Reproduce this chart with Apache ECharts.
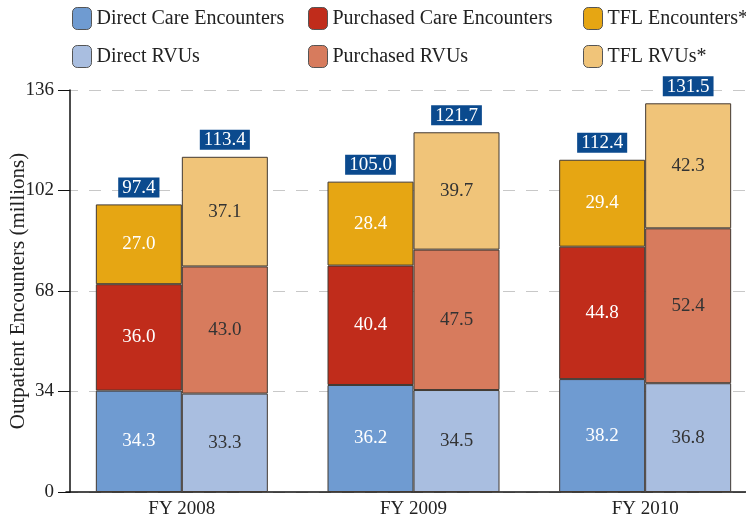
<!DOCTYPE html>
<html><head><meta charset="utf-8">
<script src="https://cdn.jsdelivr.net/npm/echarts@6/dist/echarts.min.js"></script>
<style>html,body{margin:0;padding:0;background:#fff}#c{width:746px;height:521px}</style>
</head><body><div id="c"></div>
<script>
const categories = ['FY 2008', 'FY 2009', 'FY 2010'];
const directEnc = [34.3, 36.2, 38.2];
const purchasedEnc = [36.0, 40.4, 44.8];
const tflEnc = [27.0, 28.4, 29.4];
const encTotals = [97.4, 105.0, 112.4];
const directRvu = [33.3, 34.5, 36.8];
const purchasedRvu = [43.0, 47.5, 52.4];
const tflRvu = [37.1, 39.7, 42.3];
const rvuTotals = [113.4, 121.7, 131.5];
const yTicks = [0, 34, 68, 102, 136];

const FONT = 'Liberation Serif';
const chart = echarts.init(document.getElementById('c'), null, {renderer: 'canvas'});
const border = {borderColor: '#433a33', borderWidth: 1};
function inner(color) {
  return {show: true, position: 'inside', color: color, fontFamily: FONT, fontSize: 19,
    formatter: p => p.value.toFixed(1)};
}
function totalLabel(totals) {
  return {show: true, position: 'top', distance: 7, fontFamily: FONT, fontSize: 19,
    color: '#fff', backgroundColor: '#0b4a8e', padding: [1, 4, 0, 4], lineHeight: 19,
    formatter: p => totals[p.dataIndex].toFixed(1)};
}
function mkSeries(name, data, stack, color, labelColor) {
  return {name, type: 'bar', stack, data, barWidth: 86, barGap: '0%',
    itemStyle: Object.assign({color}, border), label: inner(labelColor), emphasis: {disabled: true}};
}
const series = [
  mkSeries('Direct Care Encounters', directEnc, 'enc', '#6f9bd1', '#fff'),
  mkSeries('Purchased Care Encounters', purchasedEnc, 'enc', '#c02c1b', '#fff'),
  mkSeries('TFL Encounters*', tflEnc, 'enc', '#e6a613', '#fff'),
  mkSeries('Direct RVUs', directRvu, 'rvu', '#a9bee0', '#333'),
  mkSeries('Purchased RVUs', purchasedRvu, 'rvu', '#d77b5d', '#333'),
  mkSeries('TFL RVUs*', tflRvu, 'rvu', '#f0c479', '#333')
];
series.push({name: 'encTotal', type: 'bar', stack: 'enc', data: encTotals.map(() => 0), barWidth: 86,
  itemStyle: {color: 'transparent'}, label: totalLabel(encTotals), silent: true});
series.push({name: 'rvuTotal', type: 'bar', stack: 'rvu', data: rvuTotals.map(() => 0), barWidth: 86,
  itemStyle: {color: 'transparent'}, label: totalLabel(rvuTotals), silent: true});

const legendPos = [
  ['Direct Care Encounters', 72, 7], ['Purchased Care Encounters', 308, 7], ['TFL Encounters*', 583, 7],
  ['Direct RVUs', 72, 45], ['Purchased RVUs', 308, 45], ['TFL RVUs*', 583, 45]
];
const legends = legendPos.map(([n, x, y]) => ({
  data: [n], left: x, top: y, padding: 0, itemWidth: 19, itemHeight: 22, itemGap: 0, selectedMode: false,
  textStyle: {fontFamily: FONT, fontSize: 20, color: '#222', padding: 0},
  itemStyle: {borderColor: '#555', borderWidth: 1}
}));

chart.setOption({
  animation: false,
  legend: legends,
  grid: {left: 66, top: 90, width: 695, bottom: 29, containLabel: false, outerBoundsMode: 'none'},
  xAxis: {type: 'category', data: categories,
    axisLine: {lineStyle: {color: '#111', width: 1.5}}, axisTick: {show: false},
    axisLabel: {fontFamily: FONT, fontSize: 19, color: '#222', margin: 8}},
  yAxis: {type: 'value', min: 0, max: 136, interval: 34, offset: -4,
    name: 'Outpatient Encounters (millions)', nameLocation: 'middle', nameGap: 41, nameMoveOverlap: false,
    nameTextStyle: {fontFamily: FONT, fontSize: 21, color: '#222'},
    axisLine: {show: true, lineStyle: {color: '#111', width: 1.5}},
    axisTick: {show: true, inside: false, length: 12, lineStyle: {color: '#111'}},
    axisLabel: {fontFamily: FONT, fontSize: 19, color: '#222', margin: 16,
      formatter: v => yTicks.includes(v) ? String(v) : ''},
    splitLine: {lineStyle: {color: '#c8c8c8', type: [12, 11], width: 1.2}}},
  series
});
</script></body></html>
